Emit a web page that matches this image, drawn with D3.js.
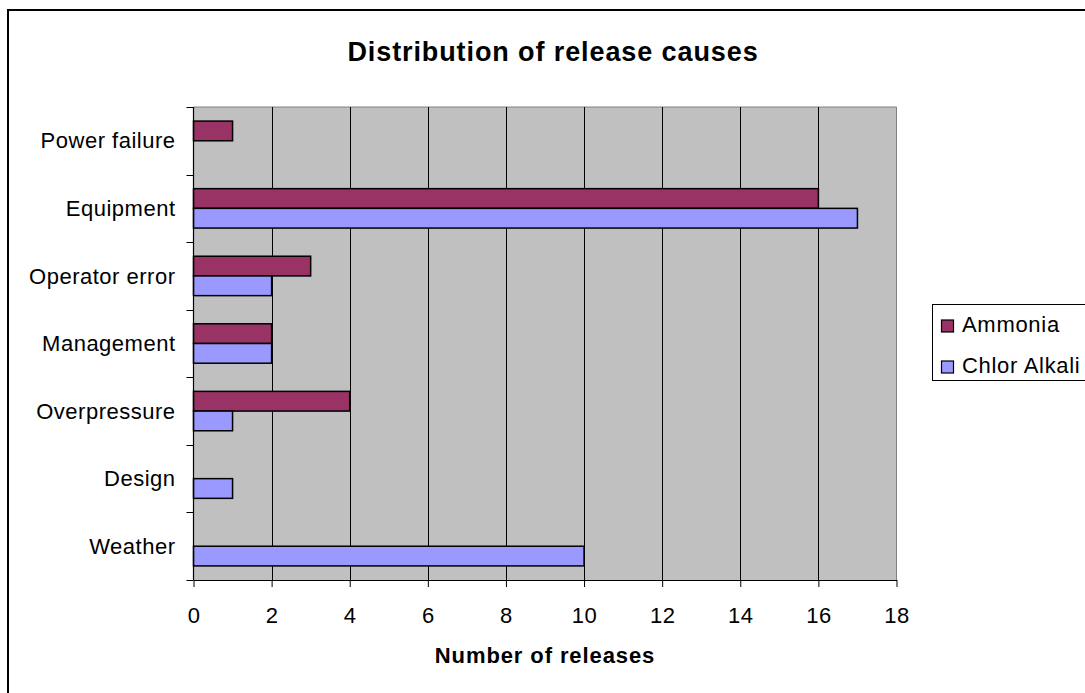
<!DOCTYPE html>
<html>
<head>
<meta charset="utf-8">
<script src="https://cdn.jsdelivr.net/npm/d3@7/dist/d3.min.js"></script>
<style>
  html, body { margin: 0; padding: 0; background: #fff; }
  svg { display: block; font-family: "Liberation Sans", Arial, sans-serif; }
</style>
</head>
<body>
<svg id="chart" width="1085" height="693"></svg>
<script>
// Release causes, top to bottom
const categories = ["Power failure", "Equipment", "Operator error", "Management", "Overpressure", "Design", "Weather"];
const seriesNames = ["Ammonia", "Chlor Alkali"];
const ammonia = [1, 16, 3, 2, 4, 0, 0];
const chlorAlkali = [0, 17, 2, 2, 1, 1, 10];
const xTicks = [0, 2, 4, 6, 8, 10, 12, 14, 16, 18];

const colors = { "Ammonia": "#993366", "Chlor Alkali": "#9999FF" };
const values = { "Ammonia": ammonia, "Chlor Alkali": chlorAlkali };

const FONT = "Liberation Sans, Arial, sans-serif";
const svg = d3.select("#chart");
const plot = { left: 193.5, right: 896.5, top: 107, bottom: 580 };

// Chart frame (runs off the right and bottom edges)
svg.append("rect")
  .attr("x", 8).attr("y", 10).attr("width", 1100).attr("height", 700)
  .attr("fill", "none").attr("stroke", "#000").attr("stroke-width", 2);

const x = d3.scaleLinear().domain([0, 18]).range([plot.left, plot.right]);
const y = d3.scaleBand().domain(categories).range([plot.top, plot.bottom]).padding(0);
const ySub = d3.scaleBand().domain(seriesNames).range([0, y.bandwidth()])
  .paddingInner(0).paddingOuter(0.715);

// Plot area background
svg.append("rect")
  .attr("x", plot.left).attr("y", plot.top)
  .attr("width", plot.right - plot.left).attr("height", plot.bottom - plot.top)
  .attr("fill", "#C0C0C0");
svg.append("path")
  .attr("d", `M${plot.left},${plot.top}H${plot.right}V${plot.bottom}`)
  .attr("fill", "none").attr("stroke", "#808080").attr("stroke-width", 1);

// Vertical gridlines
svg.append("g").selectAll("line")
  .data(xTicks.filter(t => t > 0 && t < 18))
  .join("line")
  .attr("x1", d => Math.round(x(d)) + 0.5).attr("x2", d => Math.round(x(d)) + 0.5)
  .attr("y1", plot.top).attr("y2", plot.bottom)
  .attr("stroke", "#000").attr("stroke-width", 1);

// Bars
const rows = [];
categories.forEach((c, i) => {
  seriesNames.forEach(s => rows.push({ cat: c, series: s, value: values[s][i] }));
});
svg.append("g").selectAll("rect")
  .data(rows.filter(d => d.value > 0))
  .join("rect")
  .attr("x", x(0))
  .attr("y", d => y(d.cat) + ySub(d.series))
  .attr("width", d => x(d.value) - x(0))
  .attr("height", ySub.bandwidth())
  .attr("fill", d => colors[d.series])
  .attr("stroke", "#000").attr("stroke-width", 1.5);

// X axis
const xAxis = svg.append("g")
  .attr("transform", `translate(0,${plot.bottom})`)
  .call(d3.axisBottom(x).tickValues(xTicks).tickSize(7).tickSizeOuter(0));
xAxis.select(".domain").attr("stroke", "#000").attr("stroke-width", 1.2);
xAxis.selectAll(".tick line").attr("stroke", "#000");
xAxis.selectAll("text")
  .attr("y", 43).attr("dy", null)
  .attr("font-size", 22).attr("letter-spacing", 0.5).attr("fill", "#000")
  .attr("font-family", FONT);

// Y axis: ticks sit on the category boundaries
const yAxis = svg.append("g").attr("transform", `translate(${plot.left},0)`);
yAxis.append("line")
  .attr("x1", 0).attr("x2", 0).attr("y1", plot.top).attr("y2", plot.bottom)
  .attr("stroke", "#000").attr("stroke-width", 1.2);
const boundaries = categories.map(c => y(c)).concat([plot.bottom]);
yAxis.selectAll("line.tick")
  .data(boundaries)
  .join("line").attr("class", "tick")
  .attr("x1", -7).attr("x2", 0)
  .attr("y1", d => Math.round(d) + 0.5).attr("y2", d => Math.round(d) + 0.5)
  .attr("stroke", "#000");
yAxis.selectAll("text")
  .data(categories)
  .join("text")
  .attr("x", -18)
  .attr("y", d => y(d) + y.bandwidth() / 2)
  .attr("dy", "0.35em")
  .attr("text-anchor", "end")
  .attr("font-size", 22)
  .attr("letter-spacing", 0.5)
  .text(d => d);

// Title and axis title
svg.append("text")
  .attr("x", 553).attr("y", 61)
  .attr("text-anchor", "middle")
  .attr("font-size", 27).attr("font-weight", "bold").attr("letter-spacing", 0.9)
  .text("Distribution of release causes");
svg.append("text")
  .attr("x", 545).attr("y", 663)
  .attr("text-anchor", "middle")
  .attr("font-size", 22).attr("font-weight", "bold").attr("letter-spacing", 0.9)
  .text("Number of releases");

// Legend
const legend = svg.append("g");
legend.append("rect")
  .attr("x", 932.5).attr("y", 304.5).attr("width", 200).attr("height", 76)
  .attr("fill", "#fff").attr("stroke", "#000").attr("stroke-width", 1);
const legendRowY = [326, 367];
seriesNames.forEach((s, i) => {
  legend.append("rect")
    .attr("x", 941.5).attr("y", legendRowY[i] - 6)
    .attr("width", 12).attr("height", 12)
    .attr("fill", colors[s]).attr("stroke", "#000").attr("stroke-width", 1.2);
  legend.append("text")
    .attr("x", 962).attr("y", legendRowY[i] + 6)
    .attr("font-size", 22).attr("letter-spacing", 0.7)
    .text(s);
});
</script>
</body>
</html>
